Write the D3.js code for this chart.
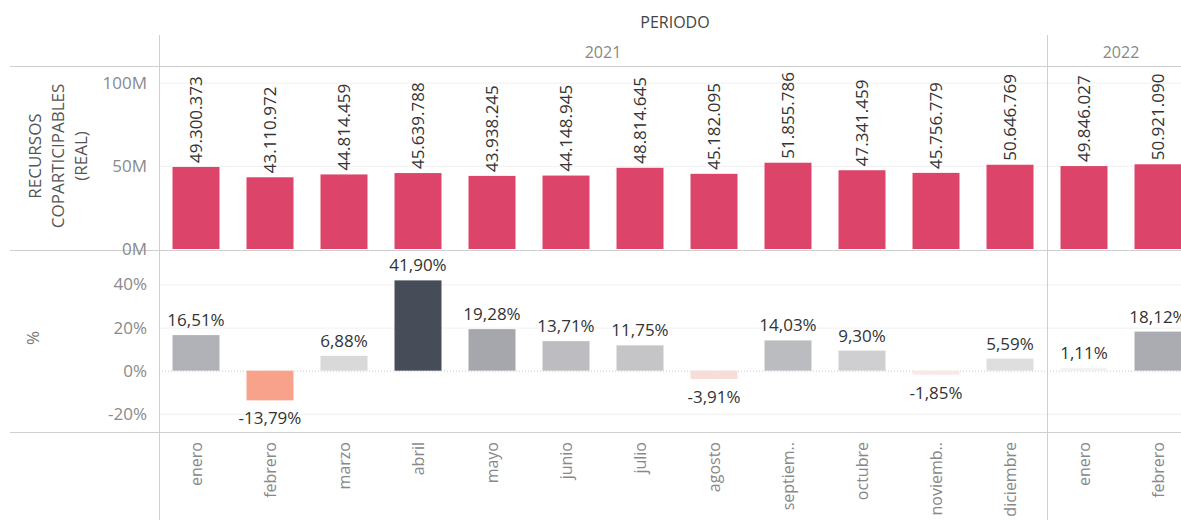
<!DOCTYPE html>
<html>
<head>
<meta charset="utf-8">
<script src="https://cdn.jsdelivr.net/npm/d3@7"></script>
<style>
  body { margin: 0; background: #fff; }
  text { font-family: "Open Sans", sans-serif; }
</style>
</head>
<body>
<svg id="chart"></svg>
<script>
// data
var years = ["2021", "2021", "2021", "2021", "2021", "2021", "2021", "2021", "2021", "2021", "2021", "2021", "2022", "2022"];
var monthLabels = ["enero", "febrero", "marzo", "abril", "mayo", "junio", "julio", "agosto",
                   "septiem..", "octubre", "noviemb..", "diciembre", "enero", "febrero"];
var recursos = [49300373, 43110972, 44814459, 45639788, 43938245, 44148945, 48814645,
                45182095, 51855786, 47341459, 45756779, 50646769, 49846027, 50921090];
var variacion = [16.51, -13.79, 6.88, 41.90, 19.28, 13.71, 11.75, -3.91, 14.03, 9.30, -1.85, 5.59, 1.11, 18.12];
var topTicks = [0, 50e6, 100e6];
var bottomTicks = [-20, 0, 20, 40];

var width = 1181, height = 520;
var left = 159, step = 74;
var right = left + step * monthLabels.length; // goes past the window, clipped like the original

var svg = d3.select("#chart").attr("width", width).attr("height", height);

var locale = d3.formatLocale({decimal: ",", thousands: ".", grouping: [3], currency: ["$", ""], minus: "-"});
var fmtNum = locale.format(",d");
var fmtPct = locale.format(".2f");

var x = d3.scaleBand()
    .domain(d3.range(monthLabels.length))
    .range([left, right])
    .paddingInner(0.365)
    .paddingOuter(0.1825);

var yTop = d3.scaleLinear().domain([0, 110e6]).range([249, 66]);
var yBot = d3.scaleLinear().domain([-28, 56]).range([431, 250]);

var color = d3.scaleLinear()
    .domain([-13.79, 0, 41.9])
    .range(["#f8a28c", "#f6f4f4", "#474d58"]);

// gridlines
svg.append("g")
    .attr("transform", "translate(" + left + ",0)")
    .call(d3.axisLeft(yTop).tickValues([50e6, 100e6]).tickSize(-(right - left)).tickFormat(""))
    .call(function(g) { g.select(".domain").remove(); g.selectAll("line").attr("stroke", "#f0f0f0"); });

svg.append("g")
    .attr("transform", "translate(" + left + ",0)")
    .call(d3.axisLeft(yBot).tickValues([-20, 20, 40]).tickSize(-(right - left)).tickFormat(""))
    .call(function(g) { g.select(".domain").remove(); g.selectAll("line").attr("stroke", "#f0f0f0"); });

// frame lines
var frame = svg.append("g").attr("stroke", "#cfcfcf").attr("fill", "none");
[66, 250, 432].forEach(function(yy) {
  frame.append("line").attr("x1", 10).attr("x2", width).attr("y1", yy + 0.5).attr("y2", yy + 0.5);
});
frame.append("line").attr("x1", left + 0.5).attr("x2", left + 0.5).attr("y1", 35).attr("y2", height);
var yearBreak = left + step * 12;
frame.append("line").attr("x1", yearBreak + 0.5).attr("x2", yearBreak + 0.5).attr("y1", 35).attr("y2", height);

// headers
svg.append("text").attr("x", 675).attr("y", 28).attr("text-anchor", "middle")
    .attr("font-size", 16).attr("fill", "#444").text("PERIODO");

var yearGroups = d3.groups(d3.range(years.length), function(i) { return years[i]; });
yearGroups.forEach(function(g) {
  var idx = g[1];
  var x0 = x(idx[0]) - x.step() * x.paddingInner() / 2;
  var x1 = x(idx[idx.length - 1]) + x.bandwidth() + x.step() * x.paddingInner() / 2;
  svg.append("text").attr("x", (x0 + x1) / 2).attr("y", 58).attr("text-anchor", "middle")
      .attr("font-size", 16).attr("fill", "#888").text(g[0]);
});

// axis titles
svg.append("text")
    .attr("transform", "translate(0,156) rotate(-90)")
    .attr("text-anchor", "middle").attr("font-size", 17).attr("fill", "#555")
    .selectAll("tspan")
    .data(["RECURSOS", "COPARTICIPABLES", "(REAL)"])
    .join("tspan")
      .attr("x", 0)
      .attr("y", function(d, i) { return 41 + i * 23; })
      .text(function(d) { return d; });

svg.append("text")
    .attr("transform", "translate(0,338) rotate(-90)")
    .attr("x", 0).attr("y", 39)
    .attr("text-anchor", "middle").attr("font-size", 17).attr("fill", "#777").text("%");

// y axes
svg.append("g")
    .attr("transform", "translate(" + left + ",0)")
    .call(d3.axisLeft(yTop).tickValues(topTicks).tickSize(0).tickPadding(12)
      .tickFormat(function(d) { return d / 1e6 + "M"; }))
    .call(function(g) {
      g.select(".domain").remove();
      g.selectAll("text").attr("font-size", 17).attr("fill", "#8a8a8a").attr("font-family", "Open Sans, sans-serif");
    });

svg.append("g")
    .attr("transform", "translate(" + left + ",0)")
    .call(d3.axisLeft(yBot).tickValues(bottomTicks).tickSize(0).tickPadding(12)
      .tickFormat(function(d) { return d + "%"; }))
    .call(function(g) {
      g.select(".domain").remove();
      g.selectAll("text").attr("font-size", 17).attr("fill", "#8a8a8a").attr("font-family", "Open Sans, sans-serif");
    });

// top bars
svg.append("g").selectAll("rect")
  .data(recursos)
  .join("rect")
    .attr("x", function(d, i) { return x(i); })
    .attr("width", x.bandwidth())
    .attr("y", function(d) { return yTop(d); })
    .attr("height", function(d) { return yTop(0) - yTop(d); })
    .attr("fill", "#dc4569");

var topLabels = svg.append("g").selectAll("text")
  .data(recursos)
  .join("text")
    .attr("font-size", 17)
    .attr("fill", "#333")
    .attr("dy", "0.35em")
    .text(function(d) { return fmtNum(d); });

// keep the label inside the pane, the way the original pushes them down
topLabels.attr("transform", function(d, i) {
  var len = this.getComputedTextLength();
  var yy = Math.max(yTop(d) - 4, 68 + len);
  return "translate(" + (x(i) + x.bandwidth() / 2) + "," + yy + ") rotate(-90)";
});

// zero line
svg.append("line")
    .attr("x1", left).attr("x2", right)
    .attr("y1", yBot(0) + 0.5).attr("y2", yBot(0) + 0.5)
    .attr("stroke", "#c8c8c8").attr("stroke-dasharray", "1,2");

// bottom bars
svg.append("g").selectAll("rect")
  .data(variacion)
  .join("rect")
    .attr("x", function(d, i) { return x(i); })
    .attr("width", x.bandwidth())
    .attr("y", function(d) { return yBot(Math.max(0, d)); })
    .attr("height", function(d) { return Math.abs(yBot(d) - yBot(0)); })
    .attr("fill", function(d) { return color(d); });

svg.append("g").selectAll("text")
  .data(variacion)
  .join("text")
    .attr("x", function(d, i) { return x(i) + x.bandwidth() / 2; })
    .attr("y", function(d) { return d >= 0 ? yBot(d) - 9 : yBot(d) + 24; })
    .attr("text-anchor", "middle")
    .attr("font-size", 17)
    .attr("fill", "#333")
    .text(function(d) { return fmtPct(d) + "%"; });

// month labels
svg.append("g").selectAll("text")
  .data(monthLabels)
  .join("text")
    .attr("transform", function(d, i) {
      return "translate(" + (x(i) + x.bandwidth() / 2) + ",442) rotate(-90)";
    })
    .attr("text-anchor", "end")
    .attr("dy", "0.35em")
    .attr("font-size", 16)
    .attr("fill", "#888")
    .text(function(d) { return d; });
</script>
</body>
</html>
